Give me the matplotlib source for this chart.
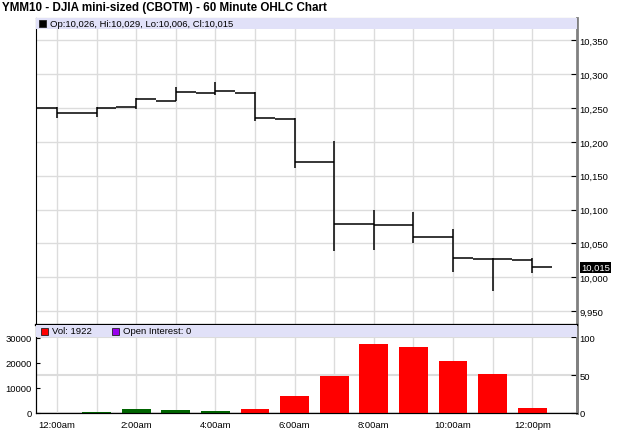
import matplotlib
matplotlib.use("Agg")
import matplotlib.pyplot as plt
from matplotlib.patches import Rectangle

plt.rcParams['font.family'] = ['Liberation Sans', 'DejaVu Sans']

# hourly bars, 12:00am .. 12:00pm
hours = list(range(13))
opens = [10250, 10242, 10251, 10261, 10272, 10272, 10234, 10171, 10079, 10077, 10059, 10027, 10026]
highs = [10252, 10252, 10265, 10281, 10289, 10273, 10236, 10202, 10099, 10096, 10072, 10029, 10029]
lows = [10236, 10237, 10249, 10261, 10269, 10231, 10162, 10039, 10040, 10050, 10008, 9979, 10006]
closes = [10242, 10250, 10263, 10273, 10275, 10235, 10171, 10079, 10077, 10059, 10028, 10027, 10015]
volumes = [0, 500, 1700, 1100, 800, 1700, 6800, 14900, 27700, 26400, 20600, 15700, 1922]

xtick_pos = [0, 2, 4, 6, 8, 10, 12]
xtick_labels = ["12:00am", "2:00am", "4:00am", "6:00am", "8:00am", "10:00am", "12:00pm"]
price_ticks = [9950, 10000, 10050, 10100, 10150, 10200, 10250, 10300, 10350]
vol_ticks = [0, 10000, 20000, 30000]
oi_ticks = [0, 50, 100]

STRIP = '#e1e1f8'
GRID = '#dcdcdc'
RED = '#ff0000'
GREEN = '#006400'
FS = 6.8

W, H = 625, 431
AX_W = 541
fig = plt.figure(figsize=(W/100, H/100), dpi=100)
ax = fig.add_axes([36/W, 1-326/H, AX_W/W, 307/H])
axv = fig.add_axes([36/W, 1-414/H, AX_W/W, 88/H])

xmin, xmax = -0.53, 13.13


def legend_item(axis, ax_h, x_px, strip_h, color, label):
    # little square plus text inside the lavender strip
    yc = 1 - (strip_h / 2) / ax_h
    axis.add_patch(Rectangle((x_px / AX_W, yc - 3.5 / ax_h), 7 / AX_W, 7 / ax_h,
                             transform=axis.transAxes, facecolor=color,
                             edgecolor='#222222', lw=0.6, zorder=4))
    axis.text((x_px + 11) / AX_W, yc, label, transform=axis.transAxes,
              fontsize=FS, va='center', ha='left', zorder=4)


# ---- price panel
ax.set_xlim(xmin, xmax)
ax.set_ylim(9929.5, 10383)
ax.vlines(hours, lows, highs, color='black', lw=1.1)
ax.hlines(opens, [h - 0.5 for h in hours], hours, color='black', lw=1.1)
ax.hlines(closes, hours, [h + 0.5 for h in hours], color='black', lw=1.1)
ax.set_xticks(hours)
ax.set_xticklabels([])
ax.tick_params(axis='x', length=0)
ax.yaxis.tick_right()
ax.set_yticks(price_ticks)
ax.set_yticklabels([f"{t:,}" for t in price_ticks])
ax.tick_params(axis='y', direction='in', length=4, pad=2, labelsize=FS, color='black')
ax.grid(True, color=GRID, lw=1)
ax.set_axisbelow(True)
ax.add_patch(Rectangle((0, 1-11/307), 1, 11/307, transform=ax.transAxes,
                       facecolor=STRIP, edgecolor='none', zorder=3))
legend_item(ax, 307, 3, 11, 'black', "Op:10,026, Hi:10,029, Lo:10,006, Cl:10,015")
ax.text(1.008, closes[-1], f"{closes[-1]:,}", transform=ax.get_yaxis_transform(),
        fontsize=FS, color='white', va='center', ha='left', zorder=5,
        bbox=dict(boxstyle='square,pad=0.1', fc='black', ec='none'), clip_on=False)
for s in ['top', 'right']:
    ax.spines[s].set_color('#808080')
ax.spines['right'].set_linewidth(2)
ax.spines['left'].set_color('black')
ax.spines['bottom'].set_color('black')
ax.spines['bottom'].set_linewidth(1.5)

# ---- volume panel (open interest scale on the right, drawn behind)
axr = axv.twinx()
axv.set_zorder(2)
axr.set_zorder(1)
axv.patch.set_visible(False)

axr.set_ylim(0, 116.2)
axr.set_yticks(oi_ticks)
axr.set_yticklabels([str(t) for t in oi_ticks])
axr.tick_params(axis='y', direction='in', length=4, pad=2, labelsize=FS)
axr.grid(True, axis='y', color=GRID, lw=1.5)
axr.spines['right'].set_color('#808080')
axr.spines['right'].set_linewidth(2)
axr.spines['top'].set_linewidth(1.5)

axv.set_xlim(xmin, xmax)
axv.set_ylim(0, 35180)
colors = [GREEN if c > o else RED for o, c in zip(opens, closes)]
axv.bar(hours, volumes, width=0.73, color=colors, zorder=2)
axv.set_xticks(xtick_pos)
axv.set_xticklabels(xtick_labels)
axv.set_xticks(hours, minor=True)
axv.tick_params(axis='x', which='both', length=0, pad=5, labelsize=FS)
axv.set_yticks(vol_ticks)
axv.set_yticklabels([str(t) for t in vol_ticks])
axv.tick_params(axis='y', direction='in', length=3, pad=3, labelsize=FS)
axv.grid(True, axis='x', which='both', color=GRID, lw=1)
axv.set_axisbelow(True)
axv.spines['top'].set_linewidth(1.5)
axv.spines['right'].set_color('#808080')
axv.spines['right'].set_linewidth(2)
axv.add_patch(Rectangle((0, 1-12/88), 1, 12/88, transform=axv.transAxes,
                        facecolor=STRIP, edgecolor='none', zorder=3))
legend_item(axv, 88, 5, 12, RED, "Vol: 1922")
legend_item(axv, 88, 76, 12, '#9900ee', "Open Interest: 0")

fig.text(2/W, 1-7.5/H, "YMM10 - DJIA mini-sized (CBOTM) - 60 Minute OHLC Chart",
         fontsize=8.4, fontweight='bold', va='center', ha='left')

fig.savefig("out.png", dpi=100)
